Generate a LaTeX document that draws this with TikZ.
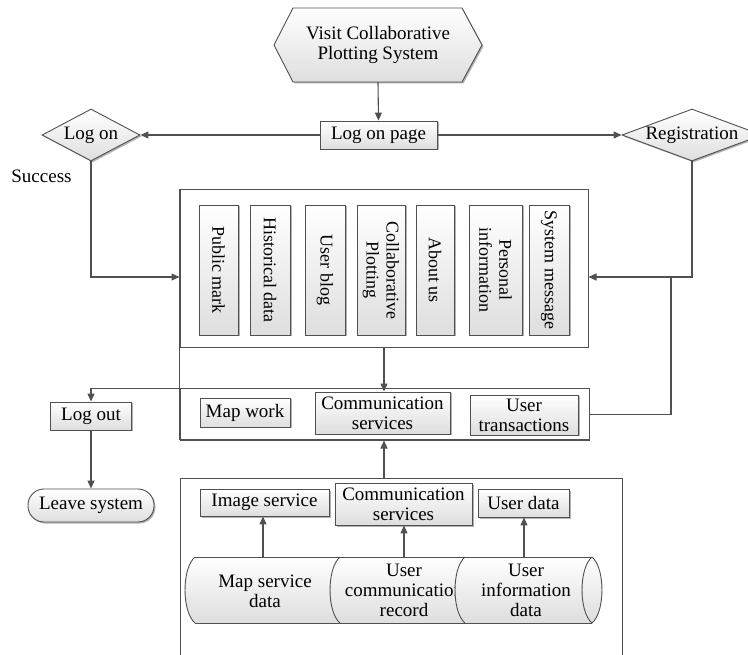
\documentclass[tikz,border=0pt]{standalone}
\usepackage{fontspec}
\setmainfont{Liberation Serif}
\usetikzlibrary{shapes.geometric,arrows.meta,shadows,calc}

\definecolor{edge}{RGB}{80,80,80}
\definecolor{boxlow}{RGB}{222,222,222}

\begin{document}
\begin{tikzpicture}[x=1pt,y=-1pt,
  every node/.style={font=\fontsize{19}{20}\selectfont, align=center, inner sep=0pt, text=black},
  shadowed/.style={drop shadow={shadow xshift=1.5pt, shadow yshift=-1.5pt, opacity=0.3, fill=black}},
  box/.style={draw=edge, line width=0.9pt, top color=white, bottom color=boxlow, shadowed},
  vbox/.style={box, rotate=-90, minimum width=130, font=\fontsize{18}{20}\selectfont},
  decision/.style={diamond, draw=edge, line width=0.9pt, top color=white, bottom color=boxlow, shadowed},
  panel/.style={draw=edge, line width=1pt, fill=white},
  link/.style={draw=edge, line width=1.1pt},
  arr/.style={link, -{Triangle[length=8pt,width=7pt]}},
  drum/.style={top color=white, bottom color=boxlow},
  rim/.style={draw=edge, line width=0.9pt},
]
\fill[white] (0,0) rectangle (748,655);
\clip (0,0) rectangle (748,655);

% --- entry ---
\path[box] (274,45) -- (293,8) -- (462,8) -- (482,45) -- (462,82) -- (293,82) -- cycle;
\node[minimum width=208, minimum height=74] (visit) at (378,45) {Visit Collaborative\\Plotting System};

\node[box, minimum width=117, minimum height=28] (logonpage) at (378.5,135) {Log on page};
\node[decision, aspect=1.88, minimum width=98, minimum height=52] (logon) at (91,135) {Log on};
\node[decision, aspect=2.69, minimum width=140, minimum height=52] (reg) at (692,135) {Registration};
\node (success) at (41.5,176) {Success};

% --- panels ---
\node[panel, minimum width=408, minimum height=158] (panel1) at (384,269) {};
\node[panel, minimum width=409, minimum height=51] (panel2) at (384.5,414.5) {};
\node[panel, minimum width=442, minimum height=184] (panel3) at (401,570) {};
\draw[link] (panel1.north west) -- (panel2.south west);

% --- function modules ---
\node[vbox, minimum height=39] (pm) at (218.5,270) {Public mark};
\node[vbox, minimum height=40] (hd) at (270,270) {Historical data};
\node[vbox, minimum height=40] (ub) at (325,270) {User blog};
\node[vbox, minimum height=48] (cp) at (381,270) {Collaborative\\Plotting};
\node[vbox, minimum height=38] (au) at (435,270) {About us};
\node[vbox, minimum height=53] (pi) at (495.5,270) {Personal\\information};
\node[vbox, minimum height=40] (sm) at (549,270) {System message};

% --- service layer ---
\node[box, minimum width=90, minimum height=29] (mapwork) at (245,412.5) {Map work};
\node[box, minimum width=135, minimum height=42] (cs2) at (382.5,413) {Communication\\services};
\node[box, minimum width=108, minimum height=40] (ut) at (524,415) {User\\transactions};

\node[box, minimum width=81, minimum height=28] (logout) at (91,416) {Log out};
\node[box, rounded corners=16, minimum width=126, minimum height=33] (leave) at (91,505.5) {Leave system};

% --- data layer ---
\node[box, minimum width=129, minimum height=27] (imgsvc) at (264.5,502.5) {Image service};
\node[box, minimum width=137, minimum height=42] (cs3) at (403.5,504) {Communication\\services};
\node[box, minimum width=91, minimum height=28] (udata) at (523.5,503) {User data};

% storage drum, three sections
\path[drum] (195,557) .. controls (181.7,568) and (181.7,612) .. (195,623) -- (340,623)
  .. controls (353.3,612) and (353.3,568) .. (340,557) -- cycle;
\draw[rim] (195,557) .. controls (181.7,568) and (181.7,612) .. (195,623);
\node (t1) at (265,591) {Map service\\data};
\path[drum] (340,557) .. controls (326.7,568) and (326.7,612) .. (340,623) -- (465,623)
  .. controls (478.3,612) and (478.3,568) .. (465,557) -- cycle;
\draw[rim] (340,557) .. controls (326.7,568) and (326.7,612) .. (340,623);
\node (t2) at (404,590) {User\\communication\\record};
\path[drum] (465,557) .. controls (451.7,568) and (451.7,612) .. (465,623) -- (592,623)
  .. controls (605.3,612) and (605.3,568) .. (592,557) -- cycle;
\draw[rim] (465,557) .. controls (451.7,568) and (451.7,612) .. (465,623);
\node (t3) at (526,590) {User\\information\\data};
\draw[rim] (592,557) .. controls (578.7,568) and (578.7,612) .. (592,623)
  .. controls (605.3,612) and (605.3,568) .. (592,557);
\draw[rim] (195,557) -- (592,557) (195,623) -- (592,623);
\coordinate (d1) at (263,557);
\coordinate (d2) at (404,557);
\coordinate (d3) at (524,557);

% --- connectors ---
\draw[arr] (visit.south) -- (logonpage.north);
\draw[arr] (logonpage.west) -- (logon.east);
\draw[arr] (logonpage.east) -- (reg.west);
\draw[arr] (logon.south) |- ([yshift=-8pt]panel1.west);
\draw[arr] (reg.south) |- ([yshift=-8pt]panel1.east);
\coordinate (regsplit) at (671,277);
\draw[link] (regsplit) |- (panel2.east);
\draw[arr] (panel1.south) -- (panel1.south |- cs2.north);
\draw[arr] (panel2.north west) -| (logout.north);
\draw[arr] (logout.south) -- (leave.north);
\draw[arr] (panel1.south |- panel3.north) -- (panel1.south |- panel2.south);
\draw[arr] (d1) -- (d1 |- imgsvc.south);
\draw[arr] (d2) -- (d2 |- cs3.south);
\draw[arr] (d3) -- (d3 |- udata.south);
\end{tikzpicture}
\end{document}
